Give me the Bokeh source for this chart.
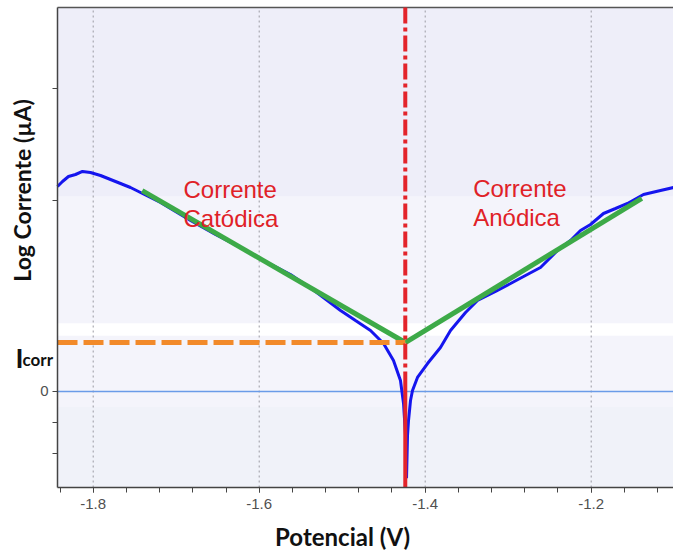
from bokeh.plotting import figure
from bokeh.models import FixedTicker, Label, BoxAnnotation
from bokeh.embed import file_html
from bokeh.resources import INLINE

# Polarisation curve: potential (V) vs log current (arbitrary decades)
potential = [-1.8430, -1.8370, -1.8298, -1.8213, -1.8129, -1.8033, -1.7912, -1.7731,
             -1.7551, -1.7430, -1.7189, -1.6828, -1.6527, -1.6225, -1.5924, -1.5623,
             -1.5322, -1.5020, -1.4840, -1.4659, -1.4502, -1.4382, -1.4298, -1.4261,
             -1.4237, -1.4225, -1.4213, -1.4201, -1.4177, -1.4153, -1.4093, -1.3972,
             -1.3816, -1.3695, -1.3514, -1.3370, -1.3153, -1.2972, -1.2792, -1.2611,
             -1.2406, -1.2249, -1.2129, -1.2008, -1.1852, -1.1707, -1.1563, -1.1370,
             -1.1165, -1.1008]
log_current = [6.613, 6.774, 6.935, 7.000, 7.097, 7.065, 6.968, 6.774,
               6.581, 6.419, 6.097, 5.516, 5.065, 4.645, 4.194, 3.774,
               3.226, 2.613, 2.290, 1.968, 1.548, 1.000, 0.355, -0.387,
               -1.419, -2.800, -1.419, -0.935, -0.290, 0.032, 0.452, 0.903,
               1.419, 1.968, 2.548, 2.935, 3.226, 3.484, 3.742, 4.000,
               4.548, 4.871, 5.194, 5.387, 5.742, 5.903, 6.065, 6.355,
               6.484, 6.581]

# Corrosion point and Tafel extrapolation ends
e_corr = -1.424
log_i_corr = 1.58
cathodic_tafel_x = [-1.741, e_corr]
cathodic_tafel_y = [6.48, log_i_corr]
anodic_tafel_x = [e_corr, -1.139]
anodic_tafel_y = [log_i_corr, 6.23]

x_ticks = [-1.8, -1.6, -1.4, -1.2]
x_tick_labels = {-1.8: "-1.8", -1.6: "-1.6", -1.4: "-1.4", -1.2: "-1.2"}
x_minor = [round(-1.84 + 0.04 * k, 2) for k in range(19)]
y_ticks = [-2, -1, 0, 6.16, 9.77]
y_tick_labels = {-2: "", -1: "", 0: "0", 6.16: "", 9.77: ""}

# data window of the axes box
x_lo, x_hi = -1.843, -1.1008
y_lo, y_hi = -3.097, 12.387

# the canvas-wide frame leaves room around the axes box for titles
p = figure(width=673, height=554, x_range=(-1.91169, -1.10084), y_range=(-5.2581, 12.6129),
           output_backend="svg", toolbar_location=None,
           min_border_left=0, min_border_right=0, min_border_top=0, min_border_bottom=0)
p.background_fill_color = "white"
p.border_fill_color = "white"
p.outline_line_color = None
p.grid.visible = False

# banded plot-area background
p.add_layout(BoxAnnotation(left=x_lo, right=x_hi, bottom=y_lo, top=y_hi, fill_color="#F4F4FB",
                           fill_alpha=1, line_color=None, level="underlay"))
p.add_layout(BoxAnnotation(left=x_lo, right=x_hi, bottom=6.3, top=y_hi, fill_color="#EEEEF9",
                           fill_alpha=1, line_color=None, level="underlay"))
p.add_layout(BoxAnnotation(left=x_lo, right=x_hi, bottom=1.8, top=2.2, fill_color="#FFFFFF",
                           fill_alpha=1, line_color=None, level="underlay"))
p.add_layout(BoxAnnotation(left=x_lo, right=x_hi, bottom=y_lo, top=-0.5, fill_color="#F0F2F9",
                           fill_alpha=1, line_color=None, level="underlay"))

# axes pinned to the box edges
p.xaxis.fixed_location = y_lo
p.xaxis.bounds = (x_lo, x_hi)
p.xaxis.ticker = FixedTicker(ticks=x_ticks, minor_ticks=x_minor)
p.xaxis.major_label_overrides = x_tick_labels
p.xaxis.major_label_text_font = "Liberation Sans"
p.xaxis.major_label_text_font_size = "15px"
p.xaxis.major_label_text_color = "#505050"
p.xaxis.major_tick_out = 5
p.xaxis.major_tick_in = 0
p.xaxis.minor_tick_out = 5
p.xaxis.minor_tick_in = 0
p.xaxis.axis_line_color = "#444444"
p.xaxis.axis_line_width = 1.5
p.xaxis.major_tick_line_color = "#444444"
p.xaxis.minor_tick_line_color = "#444444"
p.xaxis.major_label_standoff = 6

p.yaxis.fixed_location = x_lo
p.yaxis.bounds = (y_lo, y_hi)
p.yaxis.ticker = FixedTicker(ticks=y_ticks, minor_ticks=[])
p.yaxis.major_label_overrides = y_tick_labels
p.yaxis.major_label_text_font = "Liberation Sans"
p.yaxis.major_label_text_font_size = "15px"
p.yaxis.major_label_text_color = "#505050"
p.yaxis.major_tick_out = 5
p.yaxis.major_tick_in = 0
p.yaxis.axis_line_color = "#444444"
p.yaxis.axis_line_width = 1.5
p.yaxis.major_tick_line_color = "#444444"
p.yaxis.major_label_standoff = 4

# top border of the box
p.line([x_lo, x_hi], [y_hi, y_hi], line_color="#555555", line_width=1.5)

# dotted vertical grid at the labelled potentials
p.segment(x0=x_ticks, x1=x_ticks, y0=[y_lo] * len(x_ticks), y1=[y_hi] * len(x_ticks),
          line_color="#9A9AA2", line_width=1, line_dash="2 3")

# zero current reference line
p.line([x_lo, x_hi], [0, 0], line_color="#6A9BE8", line_width=1.5)

# measured curve
p.line(potential, log_current, line_color="#1515EE", line_width=3)

# Tafel lines
p.line(cathodic_tafel_x, cathodic_tafel_y, line_color="#3DAA48", line_width=5)
p.line(anodic_tafel_x, anodic_tafel_y, line_color="#3DAA48", line_width=5)

# i_corr projection
p.line([x_lo, e_corr], [log_i_corr, log_i_corr], line_color="#F28A2A", line_width=5, line_dash="20 6")

# E_corr marker
p.line([e_corr, e_corr], [y_hi, 0.6], line_color="#E3242B", line_width=4, line_dash="16 4 4 4")
p.line([e_corr, e_corr], [0.6, y_lo], line_color="#E3242B", line_width=4)

# region labels
red = "#E02127"
for txt, xx, yy in [("Corrente", -1.6912, 6.52), ("Catódica", -1.6912, 5.58),
                    ("Corrente", -1.3422, 6.55), ("Anódica", -1.3422, 5.62)]:
    p.add_layout(Label(x=xx, y=yy, text=txt, text_color=red, text_font="Liberation Sans",
                       text_font_size="24px", text_baseline="alphabetic"))

# axis titles and I_corr tag
ink = "#111111"
p.add_layout(Label(x=-1.4996, y=-4.677, text="Potencial (V)", text_font="Lato",
                   text_font_style="bold", text_font_size="24px", text_align="center",
                   text_baseline="middle", text_color=ink))
p.add_layout(Label(x=-1.8852, y=6.484, text="Log Corrente (µA)", text_font="Lato",
                   text_font_style="bold", text_font_size="23px", text_align="center",
                   text_baseline="middle", angle=1.5708, text_color=ink))
p.add_layout(Label(x=-1.8936, y=1.097, text="I", text_font="Lato", text_font_style="bold",
                   text_font_size="27px", text_baseline="alphabetic", text_color=ink))
p.add_layout(Label(x=-1.8852, y=1.032, text="corr", text_font="Lato", text_font_style="bold",
                   text_font_size="17px", text_baseline="alphabetic", text_color=ink))

open("out.html", "w").write(file_html(p, INLINE))
